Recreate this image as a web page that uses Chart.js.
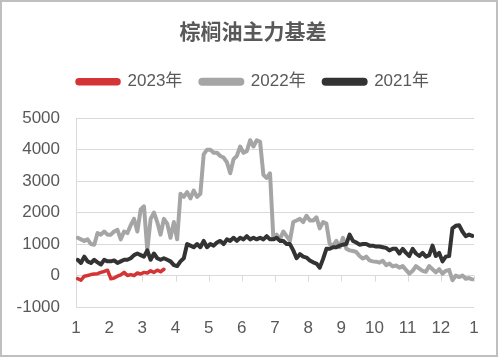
<!DOCTYPE html>
<html><head><meta charset="utf-8">
<script src="https://cdn.jsdelivr.net/npm/chart.js@4"></script>
<style>
html,body{margin:0;padding:0;background:#fff;}
#wrap{width:498px;height:357px;box-sizing:border-box;border:2px solid #bfbfbf;background:#fff;}
canvas{display:block;}
</style></head><body>
<div id="wrap"><canvas id="c" width="494" height="353"></canvas></div>
<script>
// Month tick labels (Jan .. Dec, next Jan)
const monthLabels = ['1','2','3','4','5','6','7','8','9','10','11','12','1'];
const seriesNames = ['2023年','2022年','2021年'];
// sampling interval in months (about 3 days per sample)
const step = 0.1;

const v2023 = [-100,-150,-20,0,30,50,60,100,130,170,-100,-80,-20,20,100,0,30,0,80,50,100,80,150,100,170,120,200];

const v2022 = [1200,1150,1100,1150,1000,980,1350,1300,1400,1300,
 1300,1400,1450,1150,1400,1350,1600,1800,1400,2100,
 2200,800,1800,2000,1700,1300,1800,1650,1200,1700,
 1150,2600,2500,2650,2450,2700,2500,2600,3850,4000,
 4000,3900,3900,3800,3750,3600,3250,3700,3800,4100,
 3900,3950,4300,4100,4300,4250,3200,3100,3250,1200,
 1300,1150,1400,1250,1100,1700,1750,1800,1700,1900,
 1750,1750,1850,1500,1700,1650,1000,950,1100,900,
 1200,850,800,780,750,620,540,600,480,450,
 440,410,470,330,380,290,320,250,300,180,
 60,150,300,220,150,120,300,200,100,200,
 60,150,180,-150,0,-50,0,-100,-80,-120];

const v2021 = [500,400,600,450,400,500,420,350,500,450,
 450,480,400,450,500,500,550,650,700,650,
 600,800,500,700,550,500,550,500,450,330,
 300,450,550,1000,950,900,1000,900,1100,900,
 1000,950,1050,1100,1000,1150,1100,1200,1100,1200,
 1150,1250,1150,1200,1150,1200,1150,1250,1150,1150,
 1200,1100,1100,1000,1000,800,550,680,600,570,
 480,420,380,250,530,850,850,900,900,950,
 980,1000,1300,1100,1050,980,1000,1000,950,950,
 920,920,900,880,800,850,850,700,850,720,
 620,850,700,620,720,600,650,950,620,720,
 450,600,620,1500,1580,1600,1400,1250,1300,1260];

const yTicks = [-1000,0,1000,2000,3000,4000,5000];

function pts(arr){ return arr.map((v,i)=>({x:(i+0.5)*step, y:v})); }

const colors = ['#d43434','#a5a5a5','#333333'];
const fontFam = "'Liberation Sans','Noto Sans CJK SC',sans-serif";

// small tick marks hanging below the zero line at each month
const zeroTicks = {
  id:'zeroTicks',
  beforeDatasetsDraw(chart){
    const {ctx, scales:{x, y}} = chart;
    const y0 = y.getPixelForValue(0);
    ctx.save();
    ctx.strokeStyle = '#d9d9d9'; ctx.lineWidth = 1;
    for (let m = 1; m < monthLabels.length; m++) {
      const px = Math.round(x.getPixelForValue(m)) + 0.5;
      ctx.beginPath(); ctx.moveTo(px, y0); ctx.lineTo(px, y0 + 6); ctx.stroke();
    }
    ctx.restore();
  }
};

new Chart(document.getElementById('c'), {
  type:'line',
  data:{
    datasets:[
      {label:seriesNames[0], data:pts(v2023), borderColor:colors[0], backgroundColor:colors[0], borderWidth:3.5, order:0, xAxisID:'x', yAxisID:'y'},
      {label:seriesNames[1], data:pts(v2022), borderColor:colors[1], backgroundColor:colors[1], borderWidth:4, order:2, xAxisID:'x', yAxisID:'y'},
      {label:seriesNames[2], data:pts(v2021), borderColor:colors[2], backgroundColor:colors[2], borderWidth:4, order:1, xAxisID:'x', yAxisID:'y'}
    ]
  },
  plugins:[zeroTicks],
  options:{
    responsive:false, animation:false,
    elements:{point:{radius:0}, line:{tension:0, borderJoinStyle:'round', borderCapStyle:'round'}},
    layout:{padding:{left:8,right:0,top:0,bottom:15}},
    plugins:{
      tooltip:{enabled:false},
      title:{display:true, text:'棕榈油主力基差', color:'#595959',
        font:{family:"'Noto Sans CJK SC',sans-serif", size:21, weight:'bold'}, padding:{top:16,bottom:12}},
      legend:{display:true, position:'top',
        labels:{color:'#595959', font:{family:fontFam, size:17}, boxWidth:42, boxHeight:4,
          useBorderRadius:true, borderRadius:2, padding:18,
          sort:(a,b)=>a.datasetIndex-b.datasetIndex}}
    },
    scales:{
      x:{type:'linear', min:0, max:12, position:'bottom',
        afterFit:(s)=>{ s.height = 33; },
        ticks:{stepSize:1, color:'#595959', font:{family:fontFam, size:17}, padding:3,
          callback:(v)=>monthLabels[v]},
        grid:{display:false}, border:{display:false}},
      xTop:{type:'linear', position:'top', display:true,
        ticks:{display:false}, grid:{display:false}, border:{display:false},
        afterFit:(s)=>{ s.height = 18; }},
      yRight:{type:'linear', position:'right', display:true,
        ticks:{display:false}, grid:{display:false}, border:{display:false},
        afterFit:(s)=>{ s.width = 22; }},
      y:{type:'linear', min:-1000, max:5000, position:'left',
        afterBuildTicks:(s)=>{ s.ticks = yTicks.map(v=>({value:v})); },
        afterFit:(s)=>{ s.width = 66; },
        ticks:{color:'#595959', font:{family:fontFam, size:17}, padding:16,
          callback:(v)=>String(v)},
        grid:{color:'#d9d9d9', drawTicks:false},
        border:{display:true, color:'#d9d9d9'}}
    }
  }
});
</script>
</body></html>
